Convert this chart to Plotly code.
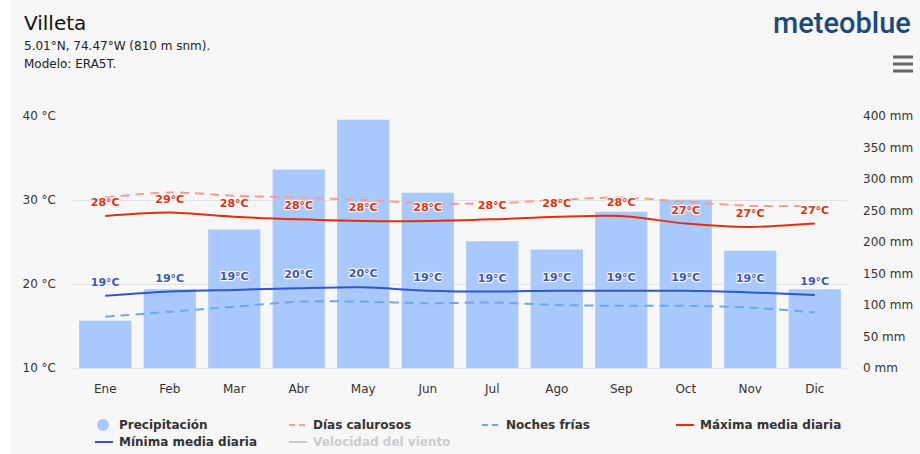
import plotly.graph_objects as go

months = ["Ene", "Feb", "Mar", "Abr", "May", "Jun", "Jul", "Ago", "Sep", "Oct", "Nov", "Dic"]
precip_mm = [75, 125, 220, 315, 394, 278, 201, 188, 248, 267, 186, 125]
hot_days = [30.3, 30.9, 30.5, 30.3, 30.0, 29.6, 29.6, 30.0, 30.3, 29.8, 29.3, 29.3]
cold_nights = [16.1, 16.7, 17.3, 17.9, 17.9, 17.7, 17.8, 17.5, 17.4, 17.4, 17.2, 16.6]
max_mean = [28.1, 28.5, 28.0, 27.7, 27.5, 27.5, 27.7, 28.0, 28.1, 27.2, 26.8, 27.2]
min_mean = [18.6, 19.1, 19.3, 19.5, 19.6, 19.2, 19.1, 19.2, 19.2, 19.2, 19.0, 18.7]
legend_names = ["Precipitación", "Días calurosos", "Noches frías", "Máxima media diaria",
                "Mínima media diaria", "Velocidad del viento"]

W, H = 920, 454
L, R, T, B = 73, 73, 116, 86
PW, PH = W - L - R, H - T - B


def px_x(x):
    return (x - L) / PW


def px_y(y):
    return (H - B - y) / PH


FONT = "DejaVu Sans"
BAR_C = "#a9c8fc"
HOT_C = "#ff9c8c"
COLD_C = "#6ea8e8"
MAX_C = "#e2300e"
MIN_C = "#2d58cf"
WIND_C = "#cccccc"
OUTLINE = "1px 1px 1px #fff, -1px -1px 1px #fff, 1px -1px 1px #fff, -1px 1px 1px #fff"

fig = go.Figure()

fig.add_trace(go.Bar(
    x=months, y=precip_mm, marker=dict(color=BAR_C, line=dict(width=0)),
    name=legend_names[0], yaxis="y", hoverinfo="skip",
))
fig.add_trace(go.Scatter(
    x=months, y=hot_days, mode="lines", yaxis="y2", name=legend_names[1],
    line=dict(color=HOT_C, width=2, dash="9px,6px", shape="spline", smoothing=0.8),
    hoverinfo="skip",
))
fig.add_trace(go.Scatter(
    x=months, y=cold_nights, mode="lines", yaxis="y2", name=legend_names[2],
    line=dict(color=COLD_C, width=2, dash="9px,6px", shape="spline", smoothing=0.8),
    hoverinfo="skip",
))
fig.add_trace(go.Scatter(
    x=months, y=max_mean, mode="lines+markers+text", yaxis="y2", name=legend_names[3],
    line=dict(color=MAX_C, width=2, shape="spline", smoothing=0.8),
    marker=dict(size=10, color="rgba(0,0,0,0)"),
    texttemplate="%{y:.0f}°C", textposition="top center",
    textfont=dict(family=FONT, size=11, color=MAX_C, weight="bold", shadow=OUTLINE),
    hoverinfo="skip",
))
fig.add_trace(go.Scatter(
    x=months, y=min_mean, mode="lines+markers+text", yaxis="y2", name=legend_names[4],
    line=dict(color=MIN_C, width=2, shape="spline", smoothing=0.8),
    marker=dict(size=10, color="rgba(0,0,0,0)"),
    texttemplate="%{y:.0f}°C", textposition="top center",
    textfont=dict(family=FONT, size=11, color="#3b56c4", weight="bold", shadow=OUTLINE),
    hoverinfo="skip",
))

# ---- manual legend (symbols as shapes, labels as text) ----
col_text_x = [119, 313, 506, 700, 119, 313]
row_y = [425, 425, 425, 425, 442, 442]
sym_kind = ["circle", "dash", "dash", "solid", "solid", "solid"]
sym_color = [BAR_C, HOT_C, COLD_C, MAX_C, MIN_C, WIND_C]
text_color = ["#333333"] * 5 + [WIND_C]

shapes = [
    dict(type="rect", xref="paper", yref="paper", x0=px_x(0), x1=px_x(10),
         y0=px_y(H), y1=px_y(0), fillcolor="#ffffff", line=dict(width=0), layer="below"),
]
for yy in (57, 64, 71):
    shapes.append(dict(type="line", xref="paper", yref="paper", x0=px_x(893), x1=px_x(913),
                       y0=px_y(yy), y1=px_y(yy), line=dict(color="#666666", width=3)))

annotations = [
    dict(text="Villeta", x=px_x(22), y=px_y(23), xref="paper", yref="paper",
         xanchor="left", yanchor="middle", showarrow=False,
         font=dict(family=FONT, size=20, color="#111111")),
    dict(text="5.01°N, 74.47°W (810 m snm).", x=px_x(22), y=px_y(46), xref="paper", yref="paper",
         xanchor="left", yanchor="middle", showarrow=False,
         font=dict(family=FONT, size=12, color="#222222")),
    dict(text="Modelo: ERA5T.", x=px_x(22), y=px_y(64), xref="paper", yref="paper",
         xanchor="left", yanchor="middle", showarrow=False,
         font=dict(family=FONT, size=12, color="#222222")),
    dict(text="meteoblue", x=px_x(913), y=px_y(23), xref="paper", yref="paper",
         xanchor="right", yanchor="middle", showarrow=False,
         font=dict(family="Roboto", size=29, color="#1c4b79", weight=500)),
]

for name, tx, ty, kind, sc, tc in zip(legend_names, col_text_x, row_y, sym_kind, sym_color, text_color):
    if kind == "circle":
        cx = tx - 16
        shapes.append(dict(type="circle", xref="paper", yref="paper",
                           x0=px_x(cx - 6), x1=px_x(cx + 6), y0=px_y(ty + 6), y1=px_y(ty - 6),
                           fillcolor=sc, line=dict(width=0)))
    else:
        shapes.append(dict(type="line", xref="paper", yref="paper",
                           x0=px_x(tx - 24), x1=px_x(tx - 6), y0=px_y(ty), y1=px_y(ty),
                           line=dict(color=sc, width=2,
                                     dash="6px,4px" if kind == "dash" else "solid")))
    annotations.append(dict(text=name, x=px_x(tx - 2), y=px_y(ty), xref="paper", yref="paper",
                            xanchor="left", yanchor="middle", showarrow=False,
                            font=dict(family=FONT, size=12, color=tc, weight="bold")))

fig.update_layout(
    width=W, height=H,
    margin=dict(l=L, r=R, t=T, b=B, autoexpand=False),
    paper_bgcolor="#f7f7f7", plot_bgcolor="#f7f7f7",
    bargap=0.19,
    showlegend=False,
    xaxis=dict(
        type="category", range=[-0.5, len(months) - 0.5], autorange=False,
        showgrid=False, zeroline=False, ticks="", automargin=False,
        showline=True, linecolor="#e3e3e3", linewidth=1,
        tickfont=dict(family=FONT, size=12, color="#333333"),
        ticklabelstandoff=10,
    ),
    yaxis=dict(
        side="right", range=[0, 400], dtick=50, ticksuffix=" mm", automargin=False,
        showgrid=False, zeroline=False,
        tickfont=dict(family=FONT, size=12, color="#333333"),
        ticklabelstandoff=15,
    ),
    yaxis2=dict(
        side="left", overlaying="y", range=[10, 40], dtick=10, ticksuffix=" °C", automargin=False,
        showgrid=True, gridcolor="#e3e3e3", gridwidth=1, zeroline=False,
        tickfont=dict(family=FONT, size=12, color="#333333"),
        ticklabelstandoff=16,
    ),
    shapes=shapes,
    annotations=annotations,
)

fig.write_html("out.html", config={"displayModeBar": False},
               post_script="document.body.style.margin='0px';")
